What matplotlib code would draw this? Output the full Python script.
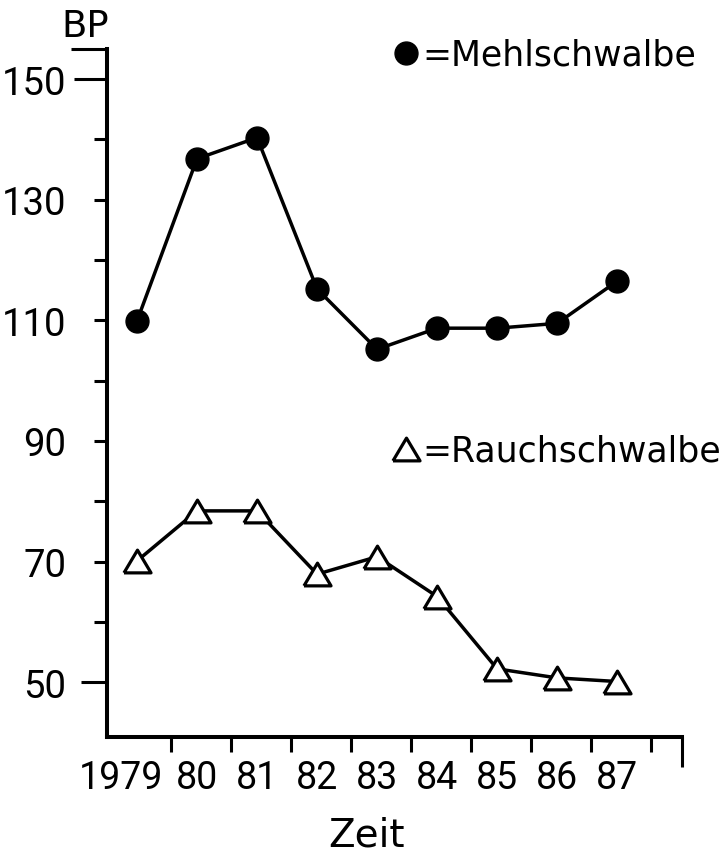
import numpy as np
import matplotlib
matplotlib.use('Agg')
import matplotlib.pyplot as plt
from matplotlib.lines import Line2D
from matplotlib.transforms import ScaledTranslation

plt.rcParams['font.family'] = ['DejaVu Sans']
digits_font = ['Roboto', 'DejaVu Sans']

# data
year_labels = ['1979', '80', '81', '82', '83', '84', '85', '86', '87']
mehlschwalbe = [109.9, 136.8, 140.3, 115.2, 105.2, 108.7, 108.7, 109.5, 116.5]
rauchschwalbe = [70.1, 78.4, 78.4, 67.9, 70.8, 64.2, 52.2, 50.7, 50.1]
y_ticks = [50, 60, 70, 80, 90, 100, 110, 120, 130, 140, 150, 155]
y_labels = ['50', '', '70', '', '90', '', '110', '', '130', '', '150', '']

x = np.arange(len(year_labels))
x_between = x + 0.57
x_end = 9.08

fig = plt.figure(figsize=(7.28, 8.54), dpi=100)
ax = fig.add_axes([107 / 728, 1 - 738 / 854, 575 / 728, 688 / 854])

# wide, flat triangle
tri = [(-1, -0.84), (1, -0.84), (0, 0.84), (-1, -0.84)]

ax.plot(x, mehlschwalbe, color='black', lw=2.5, marker='o', ms=16.5, zorder=3)
ax.plot(x, rauchschwalbe, color='black', lw=2.5, marker=tri, ms=19.5,
        mfc='white', mec='black', mew=2.3, zorder=3)

ax.set_xlim(-0.5, x_end)
ax.set_ylim(40.9, 155)

for s in ['top', 'right']:
    ax.spines[s].set_visible(False)
for s in ['left', 'bottom']:
    ax.spines[s].set_linewidth(2.9)
    ax.spines[s].set_capstyle('projecting')

# x axis: labels under the points, tick marks between them
ax.set_xticks(x, year_labels)
ax.set_xticks(list(x_between) + [x_end], minor=True)
ax.tick_params(axis='x', which='major', length=0, pad=16, labelsize=27)
ax.tick_params(axis='x', which='minor', length=11, width=2.2)
ax.xaxis.get_minor_ticks()[-1].tick1line.set_markersize(21.6)
for t in ax.get_xticklabels():
    t.set_fontfamily(digits_font)
lab0 = ax.xaxis.get_major_ticks()[0].label1
lab0.set_transform(lab0.get_transform() + ScaledTranslation(-0.16, 0, fig.dpi_scale_trans))

# y axis
ax.set_yticks(y_ticks, y_labels)
ax.tick_params(axis='y', length=9.4, width=2.2, pad=20, labelsize=27.5)
for t in ax.get_yticklabels():
    t.set_fontfamily(digits_font)
yt = ax.yaxis.get_major_ticks()
yt[0].tick1line.set_markersize(19)
yt[-2].tick1line.set_markersize(24)
yt[-1].tick1line.set_markersize(26)

# legend entries
prop = {'family': 'DejaVu Sans', 'size': 25}
h1 = Line2D([], [], ls='none', marker='o', color='black', ms=16.5)
h2 = Line2D([], [], ls='none', marker=tri, ms=19.5, mfc='white', mec='black', mew=2.3)
leg1 = ax.legend([h1], ['=Mehlschwalbe'], loc='center left',
                 bbox_to_anchor=(395 / 728, 1 - 56 / 854), bbox_transform=fig.transFigure,
                 frameon=False, borderpad=0, borderaxespad=0, handlelength=0.64,
                 handletextpad=0.15, prop=prop)
ax.add_artist(leg1)
ax.legend([h2], ['=Rauchschwalbe'], loc='center left',
          bbox_to_anchor=(395 / 728, 1 - 452 / 854), bbox_transform=fig.transFigure,
          frameon=False, borderpad=0, borderaxespad=0, handlelength=0.64,
          handletextpad=0.15, prop=prop)

fig.text(85 / 728, 1 - 37 / 854, 'BP', ha='center', va='baseline', fontsize=26.6)
fig.text(366 / 728, 1 - 847 / 854, 'Zeit', ha='center', va='baseline', fontsize=28)

fig.savefig('out.png', dpi=100)
